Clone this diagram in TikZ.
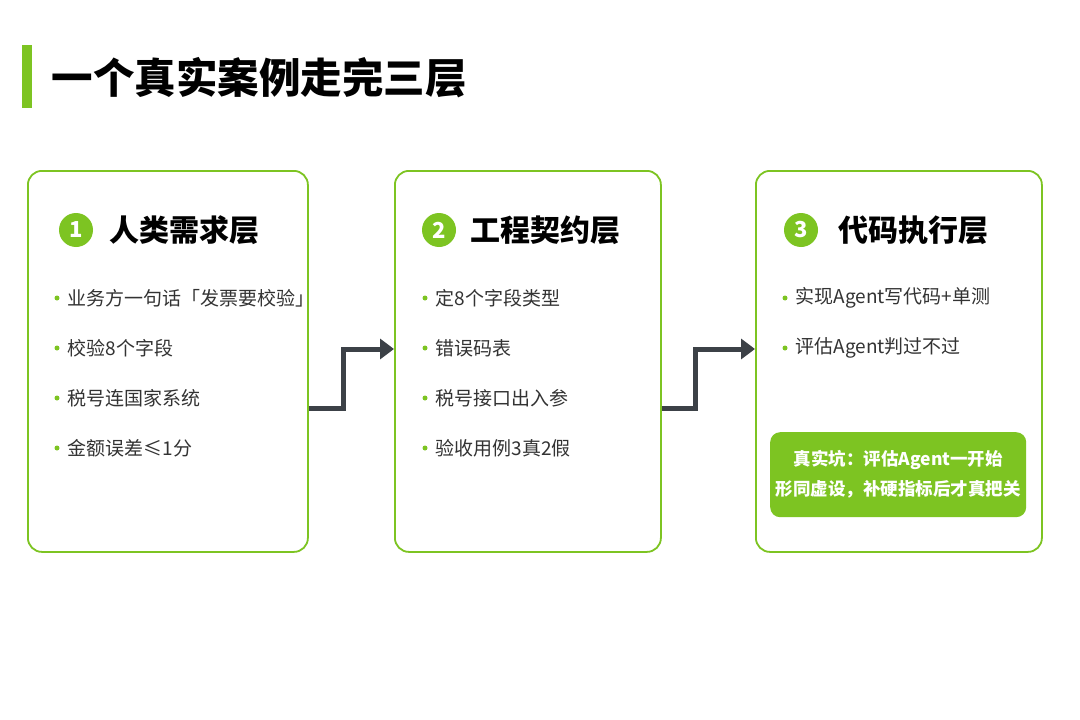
\documentclass[tikz,border=0pt]{standalone}
\usepackage{fontspec}
\setmainfont{Noto Sans CJK SC}
\usetikzlibrary{arrows.meta}
\definecolor{gr}{HTML}{7DC422}
\definecolor{dk}{HTML}{3C4147}
\definecolor{tx}{HTML}{333333}
\tikzset{
 card/.style={draw=gr,line width=1.8pt,rounded corners=14pt,fill=white},
 num/.style={circle,fill=gr,minimum size=34pt,inner sep=0pt,text=white,font=\fontsize{22}{22}\selectfont\bfseries},
 head/.style={anchor=west,font=\fontsize{30}{30}\selectfont\bfseries,text=black},
 item/.style={anchor=west,font=\fontsize{19}{19}\selectfont,text=tx},
 dot/.style={circle,fill=gr,minimum size=5pt,inner sep=0pt},
 conn/.style={draw=dk,line width=5pt,-{Triangle[length=14pt,width=20pt]}},
}
\begin{document}
\begin{tikzpicture}[x=1pt,y=-1pt]
\useasboundingbox[fill=white] (0,0) rectangle (1080,720);
\fill[gr] (22,45) rectangle (32,108);
\node[anchor=west,font=\fontsize{41.5}{41.5}\selectfont\bfseries] (title) at (48,78) {一个真实案例走完三层};
\node[card,minimum width=280pt,minimum height=381pt,anchor=north west] (c1) at (27,170) {};
\node[card,minimum width=266pt,minimum height=381pt,anchor=north west] (c2) at (394,170) {};
\node[card,minimum width=286pt,minimum height=381pt,anchor=north west] (c3) at (755,170) {};
\node[num] (n1) at (76,230) {1};
\node[head] (h1) at (106,230) {人类需求层};
\node[num] (n2) at (439,230) {2};
\node[head] (h2) at (467,230) {工程契约层};
\node[num] (n3) at (801,230) {3};
\node[head] (h3) at (835,230) {代码执行层};
\foreach \t [count=\i] in {业务方一句话「发票要校验」,校验8个字段,税号连国家系统,金额误差≤1分}{
 \node[dot] (a\i) at (57,{248+50*\i}) {};
 \node[item] (at\i) at (64,{248+50*\i}) {\t};}
\foreach \t [count=\i] in {定8个字段类型,错误码表,税号接口出入参,验收用例3真2假}{
 \node[dot] (b\i) at (425,{248+50*\i}) {};
 \node[item] (bt\i) at (432,{248+50*\i}) {\t};}
\foreach \t [count=\i] in {实现Agent写代码+单测,评估Agent判过不过}{
 \node[dot] (d\i) at (785,{248+50*\i}) {};
 \node[item] (dt\i) at (792,{248+50*\i}) {\t};}
\node[fill=gr,rounded corners=10pt,minimum width=256pt,minimum height=85pt,anchor=north west] (pit) at (770,432) {};
\node[text=white,font=\fontsize{17.5}{30}\selectfont\bfseries,align=center] (pt) at (pit.center) {真实坑：评估Agent一开始\\形同虚设，补硬指标后才真把关};
\coordinate (s1) at (c1.east|-0,408);
\coordinate (s2) at (c2.east|-0,408);
\draw[conn] (s1) -- (343,408) -- (343,349) -- (c2.west|-0,349);
\draw[conn] (s2) -- (695,408) -- (695,349) -- (c3.west|-0,349);
\end{tikzpicture}
\end{document}
